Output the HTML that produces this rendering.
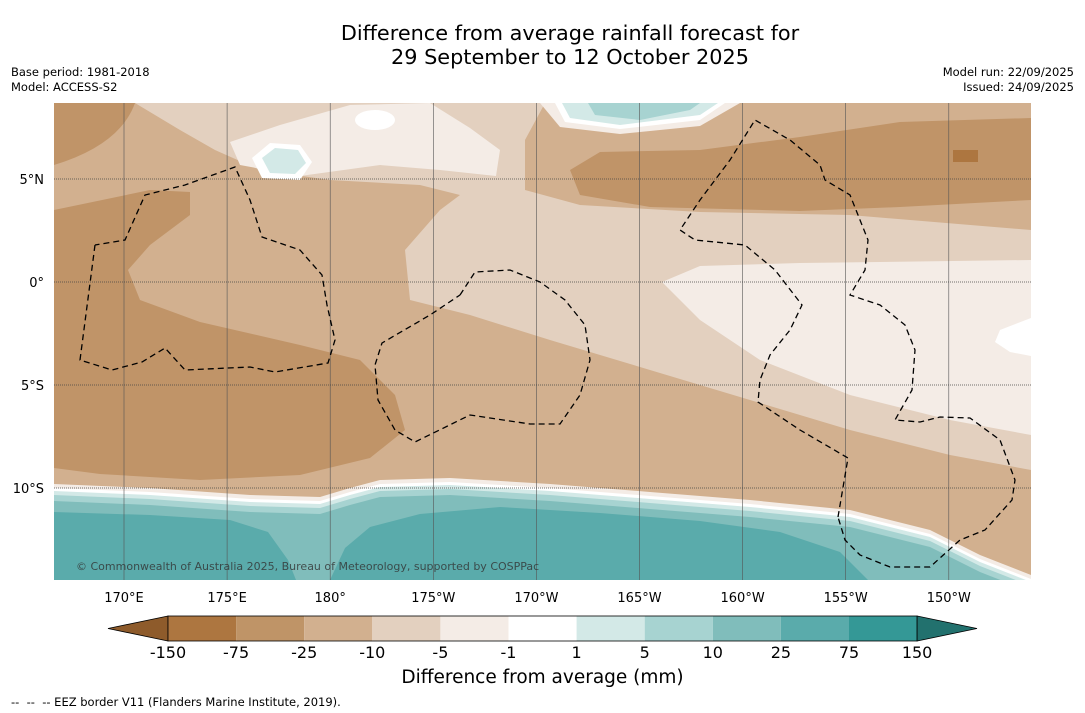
<!DOCTYPE html>
<html><head><meta charset="utf-8">
<style>
body{margin:0;background:#fff;width:1085px;height:713px;overflow:hidden;font-family:"DejaVu Sans","Liberation Sans",sans-serif;position:relative}
.t{position:absolute;color:#000}
</style></head><body>
<div class="t" style="left:0;width:1140px;top:21px;text-align:center;font-size:20.8px;line-height:24px">Difference from average rainfall forecast for<br>29 September to 12 October 2025</div>
<div class="t" style="left:11px;top:65px;font-size:11.5px;line-height:15px">Base period: 1981-2018<br>Model: ACCESS-S2</div>
<div class="t" style="right:11px;top:65px;font-size:11.5px;line-height:15px;text-align:right">Model run: 22/09/2025<br>Issued: 24/09/2025</div>
<svg width="1085" height="713" style="position:absolute;left:0;top:0">
<defs><clipPath id="mc"><rect x="54" y="103" width="977" height="477"/></clipPath></defs>
<g clip-path="url(#mc)">
<rect x="54" y="103" width="977" height="477" fill="#d2b08f"/>
<path fill="#e3d0bf" d="M135,103 L545,103 L525,140 L525,190 L580,205 L700,212 L850,215 L1031,230 L1031,470 L950,455 L850,430 L750,400 L650,370 L550,340 L470,315 L410,300 L405,250 L440,210 L460,195 L420,185 L330,180 L260,170 L215,150 L180,130 Z"/>
<path fill="#c09468" d="M54,103 L135,103 Q120,145 54,165 Z"/>
<path fill="#c09468" d="M54,210 L150,190 L190,192 L190,215 L150,245 L128,270 L140,300 L200,322 L300,345 L360,360 L395,395 L405,430 L370,458 L300,475 L200,480 L100,474 L54,468 Z"/>
<path fill="#c09468" d="M570,170 L600,152 L700,150 L800,137 L900,122 L1031,118 L1031,200 L900,207 L800,211 L650,207 L580,195 Z"/>
<rect x="953" y="150" width="25" height="12" fill="#ad7640"/>
<path fill="#f4ece6" d="M230,142 L280,125 L350,105 L430,103 L470,128 L500,150 L496,176 L440,170 L380,165 L300,176 L240,165 Z"/>
<path fill="#f4ece6" d="M662,282 L700,266 L800,263 L1031,260 L1031,435 L950,420 L850,395 L760,360 L700,320 Z"/>
<path fill="#f4ece6" d="M540,103 L560,127 L620,134 L700,126 L740,103 Z"/>
<ellipse cx="375" cy="120" rx="20" ry="10" fill="#fff"/>
<path fill="#fff" d="M1031,318 L1000,330 L995,342 L1010,352 L1031,356 Z"/>
<path fill="#fff" d="M555,103 L565,122 L620,129 L700,120 L725,103 Z"/>
<path fill="#d3e9e7" d="M562,103 L570,118 L620,125 L700,115 L718,103 Z"/>
<path fill="#a7d3d1" d="M588,103 L595,115 L640,120 L690,110 L700,103 Z"/>
<path fill="#fff" d="M252,158 L270,143 L300,145 L312,162 L300,180 L262,178 Z"/>
<path fill="#d3e9e7" d="M262,158 L275,148 L298,150 L306,163 L295,174 L270,173 Z"/>
<g id="bands"></g>
<path fill="#5aabab" d="M54,512 L150,515 L230,520 L268,532 L288,560 L296,580 L54,580 Z"/>
<path fill="#5aabab" d="M330,580 L345,548 L370,527 L420,514 L500,507 L600,513 L700,521 L780,532 L840,552 L868,580 Z"/>
<g id="grid"></g>
<g fill="none" stroke="#000" stroke-width="1.3" stroke-dasharray="6,4">
<polyline points="95,245 80,360 112,370 142,362 165,348 185,370 250,367 275,372 328,363 335,340 327,305 322,275 300,250 262,237 250,200 235,167 185,185 145,195 125,240 95,245"/>
<polyline points="460,295 475,272 510,270 540,282 565,300 585,325 590,360 580,395 560,424 530,424 470,415 415,442 395,430 378,400 375,365 382,343 430,315 460,295"/>
<polyline points="838,517 848,458 800,430 758,402 760,380 770,355 790,330 802,305 775,270 745,245 695,240 680,230 700,200 730,160 755,120 790,140 820,165 825,180 850,195 868,240 865,270 850,295 880,305 905,325 915,350 912,390 895,420 920,422 940,417 970,418 1000,440 1015,480 1012,500 985,530 960,540 930,567 890,567 860,555 845,540 838,517"/>
</g>
<text x="76" y="570" font-size="11" fill="#333" opacity="0.8" font-family="DejaVu Sans,sans-serif">© Commonwealth of Australia 2025, Bureau of Meteorology, supported by COSPPac</text>
</g>
<g id="ticks" font-size="13" font-family="DejaVu Sans,sans-serif"></g>
<g id="cbar"></g>
</svg>
<div class="t" style="left:0;width:1085px;top:667px;text-align:center;font-size:18.5px">Difference from average (mm)</div>
<div class="t" style="left:11px;top:695px;font-size:11.5px">--&nbsp; --&nbsp; -- EEZ border V11 (Flanders Marine Institute, 2019).</div>
<script>
const cbLabels=["-150","-75","-25","-10","-5","-1","1","5","10","25","75","150"];
const cbColors=["#ad7640","#bf9467","#d2b08f","#e3d0bf","#f4ece6","#ffffff","#d3e9e7","#a7d3d1","#80bdbb","#5aabab","#349896"];
const lonLabels=["170°E","175°E","180°","175°W","170°W","165°W","160°W","155°W","150°W"];
const latLabels=["5°N","0°","5°S","10°S"];
const NS="http://www.w3.org/2000/svg";
function mk(t,a,p){const e=document.createElementNS(NS,t);for(const k in a)e.setAttribute(k,a[k]);p.appendChild(e);return e;}
const base=[[54,484],[150,488],[250,495],[320,497],[350,488],[380,480],[450,478],[550,484],[650,492],[750,500],[850,510],[930,530],[980,555],[1031,575]];
const bandOff=[0,4,7,11,17];
const bandCol=["#f4ece6","#ffffff","#d3e9e7","#a7d3d1","#80bdbb"];
const bg=document.getElementById('bands');
bandOff.forEach((o,i)=>{let d="M54,600 ";base.forEach(p=>d+="L"+p[0]+","+(p[1]+o)+" ");d+="L1031,600 Z";
const e=mk('path',{d:d,fill:bandCol[i]},bg);

});
const gg=document.getElementById('grid');
const lonX=i=>124+i*103.1, latY=i=>179+i*103;
for(let i=0;i<9;i++){const l=mk('line',{x1:lonX(i),x2:lonX(i),y1:103,y2:580,stroke:'#555','stroke-width':0.6},gg);

}
for(let i=0;i<4;i++){const l=mk('line',{x1:54,x2:1031,y1:latY(i),y2:latY(i),stroke:'#444','stroke-width':0.7,'stroke-dasharray':'1,1'},gg);

}
const tg=document.getElementById('ticks');
lonLabels.forEach((s,i)=>{const t=mk('text',{x:lonX(i),y:602,'text-anchor':'middle'},tg);t.textContent=s;

});
latLabels.forEach((s,i)=>{const t=mk('text',{x:44,y:latY(i)+5,'text-anchor':'end'},tg);t.textContent=s;

});
const cb=document.getElementById('cbar');
const x0=168,w=68.1,y0=616,h=25;
const la=mk('path',{d:`M${x0},${y0} L108,${y0+h/2} L${x0},${y0+h} Z`,fill:'#8e5b2b',stroke:'#000','stroke-width':0.8},cb);


cbColors.forEach((c,i)=>{const r=mk('rect',{x:x0+i*w,y:y0,width:w,height:h,fill:c},cb);

});
const xe=x0+cbColors.length*w;
const ra=mk('path',{d:`M${xe},${y0} L977,${y0+h/2} L${xe},${y0+h} Z`,fill:'#22716e',stroke:'#000','stroke-width':0.8},cb);


mk('rect',{x:x0,y:y0,width:xe-x0,height:h,fill:'none',stroke:'#000','stroke-width':0.8},cb);
cbLabels.forEach((s,i)=>{const t=mk('text',{x:x0+i*w,y:658,'text-anchor':'middle','font-size':16,'font-family':'DejaVu Sans,sans-serif'},cb);t.textContent=s;

});
</script>
</body></html>
